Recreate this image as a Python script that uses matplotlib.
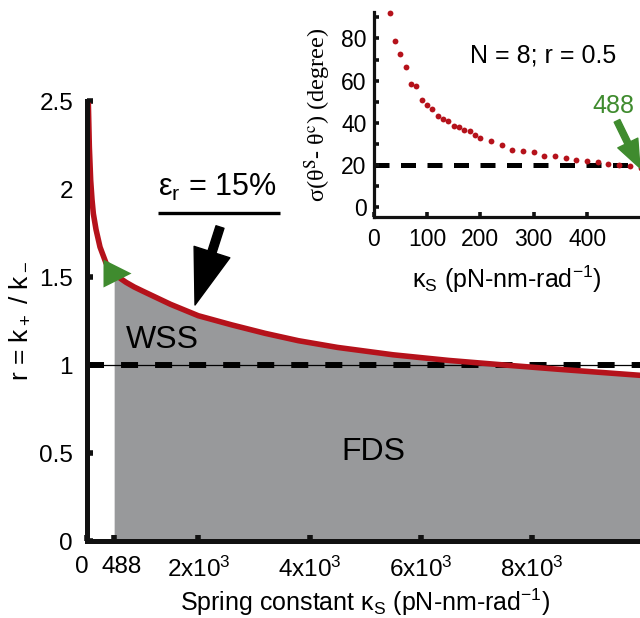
import matplotlib
matplotlib.use('Agg')
import matplotlib.pyplot as plt
import matplotlib.transforms as mtransforms
import numpy as np

plt.rcParams['font.family'] = ['Liberation Sans', 'DejaVu Sans']
plt.rcParams['mathtext.fontset'] = 'custom'
plt.rcParams['mathtext.rm'] = 'Liberation Sans'
plt.rcParams['mathtext.it'] = 'Liberation Sans:italic'
plt.rcParams['mathtext.bf'] = 'Liberation Sans:bold'

# ---------------- data: main panel ----------------
kappa = [24, 42, 66, 90, 114, 162, 234, 341, 488, 600, 700, 850, 1000, 1200,
         1500, 2000, 2600, 3200, 3800, 4500, 5500, 6500, 7500, 8500, 10000]
ratio = [2.49, 2.24, 2.05, 1.94, 1.86, 1.77, 1.67, 1.58, 1.52, 1.492, 1.47,
         1.443, 1.42, 1.39, 1.345, 1.28, 1.228, 1.18, 1.138, 1.10, 1.058,
         1.026, 1.00, 0.975, 0.94]
threshold_kappa = 488
threshold_ratio = 1.52
reference_ratio = 1.0
x_ticks = [0, 488, 2000, 4000, 6000, 8000]
x_tick_labels = ['0', '488', '2x10$^3$', '4x10$^3$', '6x10$^3$', '8x10$^3$']
y_ticks = [0, 0.5, 1, 1.5, 2, 2.5]
y_tick_labels = ['0', '0.5', '1', '1.5', '2', '2.5']

# ---------------- data: inset ----------------
inset_kappa = [30, 40, 50, 60, 70, 80, 90, 100, 110, 120, 130, 140, 150, 160,
               170, 180, 190, 200, 220, 240, 260, 280, 300, 320, 340, 360, 380,
               400, 420, 440, 460, 480, 500]
inset_sigma = [92.1, 78.7, 72.8, 66.5, 58.3, 57.3, 51.0, 48.3, 46.6, 43.3, 42.0,
               40.9, 38.7, 38.1, 36.8, 36.0, 34.3, 32.7, 31.6, 29.5, 27.3, 26.7,
               26.1, 24.6, 24.2, 23.4, 22.3, 21.8, 21.3, 20.7, 20.1, 19.4, 18.8]
inset_reference = 20
inset_x_ticks = [0, 100, 200, 300, 400]
inset_y_ticks = [0, 20, 40, 60, 80]
inset_y_minor = [10, 30, 50, 70, 90]

RED = '#b5121b'
GRAY = '#98999b'
GREEN = '#3f8b2e'
BLACK = '#111111'

fig = plt.figure(figsize=(6.4, 6.18), dpi=100)
W, H = 640.0, 618.0

# ---------------- main axes ----------------
ax = fig.add_axes([87 / W, (H - 541) / H, 556.5 / W, 440 / H])
ax.set_xlim(0, 10000)
ax.set_ylim(0, 2.5)

k_arr = np.array(kappa)
r_arr = np.array(ratio)
mask = k_arr >= threshold_kappa
ax.fill_between(k_arr[mask], 0, r_arr[mask], color=GRAY, lw=0, zorder=1)
ax.axhline(reference_ratio, color='k', lw=0.9, zorder=1.5)
ax.axhline(reference_ratio, color='k', lw=4.3, dashes=(2.85, 2.85), zorder=1.6)
ax.plot(kappa, ratio, color=RED, lw=4.0, zorder=3, solid_capstyle='butt',
        solid_joinstyle='round')
ax.plot([threshold_kappa], [threshold_ratio], marker='>', ms=20, color=GREEN,
        mec='none', zorder=4, clip_on=False,
        transform=ax.transData + mtransforms.ScaledTranslation(3 / 100, 0, fig.dpi_scale_trans))

for s in ['top', 'right']:
    ax.spines[s].set_visible(False)
for s in ['left', 'bottom']:
    ax.spines[s].set_linewidth(3.6)
    ax.spines[s].set_color(BLACK)
    ax.spines[s].set_zorder(5)

ax.set_xticks(x_ticks)
ax.set_xticklabels(x_tick_labels)
ax.set_yticks(y_ticks)
ax.set_yticklabels(y_tick_labels)
ax.tick_params(axis='both', direction='in', length=4, width=4.0, color=BLACK,
               labelsize=17.5)
ax.tick_params(axis='x', pad=11)
ax.tick_params(axis='y', pad=10)

labs = ax.get_xticklabels()
labs[0].set_transform(labs[0].get_transform() +
                      mtransforms.ScaledTranslation(-5 / 100, 0, fig.dpi_scale_trans))
labs[1].set_transform(labs[1].get_transform() +
                      mtransforms.ScaledTranslation(7 / 100, 0, fig.dpi_scale_trans))

ax.set_xlabel('Spring constant κ$_\\mathregular{S}$ (pN-nm-rad$^\\mathregular{-1}$)',
              fontsize=18, labelpad=4)
ax.set_ylabel('r = k$_+$ / k$_-$', fontsize=19, labelpad=5)

# annotations
ax.text(2336, 2.011, 'ε$_\\mathregular{r}$ = 15%', fontsize=22, ha='center',
        va='center')
ax.plot([1276, 3468], [1.864, 1.864], color='k', lw=2.4, solid_capstyle='butt')
ax.annotate('', xy=(1941, 1.341), xytext=(2390, 1.784),
            arrowprops=dict(arrowstyle='simple,head_length=4.0,head_width=2.7,tail_width=0.6',
                            color='k', mutation_scale=10, shrinkA=0, shrinkB=0))
ax.text(1348, 1.142, 'WSS', fontsize=23, ha='center', va='center')
ax.text(5139, 0.506, 'FDS', fontsize=23, ha='center', va='center')

# ---------------- inset axes ----------------
axi = fig.add_axes([373.5 / W, (H - 217) / H, 267 / W, 205 / H])
axi.set_facecolor('none')
axi.set_xlim(0, 500)
axi.set_ylim(-4.5, 92.5)
axi.axhline(inset_reference, color='k', lw=3.6, dashes=(3.0, 2.3), zorder=1)
axi.plot(inset_kappa, inset_sigma, 'o', ms=4.2, color=RED, mec='none',
         clip_on=False, zorder=3)
for s in ['top', 'right']:
    axi.spines[s].set_visible(False)
for s in ['left', 'bottom']:
    axi.spines[s].set_linewidth(2.3)
    axi.spines[s].set_color(BLACK)
axi.set_xticks(inset_x_ticks)
axi.set_yticks(inset_y_ticks)
axi.set_yticks(inset_y_minor, minor=True)
axi.tick_params(axis='both', which='both', direction='in', length=3.5, width=2.6,
                color=BLACK, labelsize=16.5)
axi.tick_params(axis='x', pad=8)
axi.tick_params(axis='y', pad=5)
axi.set_xlabel('κ$_\\mathregular{S}$ (pN-nm-rad$^\\mathregular{-1}$)', fontsize=18,
               labelpad=9)
axi.set_ylabel('σ(θ$^{\\mathrm{S}}$- θ$^{\\mathrm{c}}$) (degree)', fontsize=17.5,
               family=['Liberation Serif', 'DejaVu Serif'], math_fontfamily='stix',
               labelpad=6)
axi.text(0.635, 0.79, 'N = 8; r = 0.5', fontsize=18, ha='center', va='center',
         transform=axi.transAxes)
axi.text(0.90, 0.541, '488', fontsize=18, ha='center', va='center', color=GREEN,
         transform=axi.transAxes)
axi.annotate('', xy=(499, 18.7), xytext=(456, 41),
             arrowprops=dict(arrowstyle='simple,head_length=2.0,head_width=1.6,tail_width=0.45',
                             color=GREEN, mutation_scale=10, shrinkA=0, shrinkB=0),
             annotation_clip=False)

fig.savefig('out.png', dpi=100)
